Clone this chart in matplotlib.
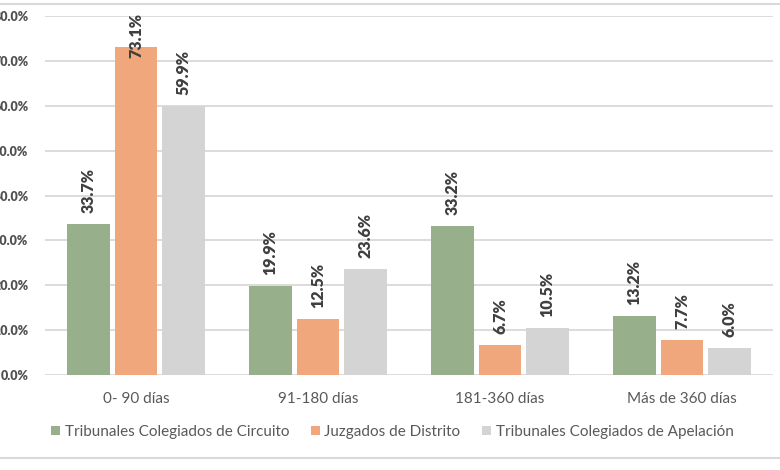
import numpy as np
import matplotlib.pyplot as plt
from matplotlib.lines import Line2D

# Datos del gráfico
categorias = ['0- 90 días', '91-180 días', '181-360 días', 'Más de 360 días']
series = ['Tribunales Colegiados de Circuito', 'Juzgados de Distrito',
          'Tribunales Colegiados de Apelación']
circuito = [33.7, 19.9, 33.2, 13.2]
distrito = [73.1, 12.5, 6.7, 7.7]
apelacion = [59.9, 23.6, 10.5, 6.0]
yticks = [0, 10, 20, 30, 40, 50, 60, 70, 80]

colores = ['#97AF8A', '#F0A77C', '#D4D4D4']
texto_gris = '#595959'

fig = plt.figure(figsize=(7.8, 4.7), dpi=100)
ax = fig.add_axes([45 / 780, 0.202, 728 / 780, 0.764])

x = np.arange(len(categorias))
ancho = 0.236
paso = 0.262
valores = [circuito, distrito, apelacion]

for i, (vals, col, nombre) in enumerate(zip(valores, colores, series)):
    pos = x + (i - 1) * paso
    ax.bar(pos, vals, width=ancho, color=col, label=nombre, zorder=3)
    for p, v in zip(pos, vals):
        # etiqueta encima de la barra, sin salir del area del grafico
        yb = min(v + 2.5, 70.6)
        ax.text(p, yb, f'{v:.1f}%', rotation=90, ha='center', va='bottom',
                fontsize=11.5, fontweight='heavy', color='#3F3F3F',
                family='Lato', zorder=4, clip_on=False)

ax.set_xlim(-0.5, len(categorias) - 0.5)
ax.set_ylim(0, 80)
ax.set_yticks(yticks)
ax.set_yticklabels([f'{t:.1f}%' for t in yticks], fontsize=9,
                   fontweight='heavy', color='#505050', family='Lato')
ax.tick_params(axis='y', length=0, pad=12)
ax.set_xticks(x)
ax.set_xticklabels(categorias, fontsize=11, color=texto_gris, family='Lato')
ax.tick_params(axis='x', length=0, pad=12)

ax.grid(axis='y', color='#D9D9D9', linewidth=1.3, zorder=0)
for s in ax.spines.values():
    s.set_visible(False)

ax.legend(loc='center', bbox_to_anchor=(0.503, 0.081),
          bbox_transform=fig.transFigure, ncol=3, frameon=False,
          prop={'family': 'Lato', 'size': 11}, labelcolor=texto_gris,
          handlelength=0.6, handleheight=0.6, handletextpad=0.3,
          columnspacing=1.4)

# líneas de marco arriba y abajo
fig.add_artist(Line2D([0, 1], [1 - 4 / 470, 1 - 4 / 470], color='#D9D9D9',
                      linewidth=1.5, transform=fig.transFigure))
fig.add_artist(Line2D([0, 1], [12 / 470, 12 / 470], color='#D9D9D9',
                      linewidth=1.5, transform=fig.transFigure))

plt.savefig('out.png', dpi=100)
